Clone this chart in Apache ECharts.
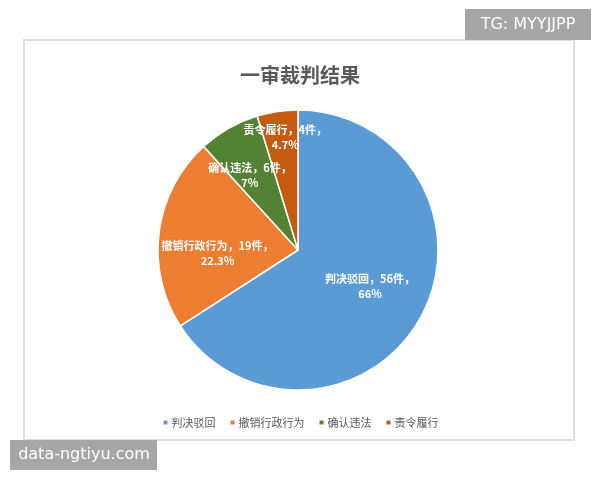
<!DOCTYPE html>
<html>
<head>
<meta charset="utf-8">
<script src="https://cdn.jsdelivr.net/npm/echarts@6/dist/echarts.min.js"></script>
<style>
  html, body { margin: 0; padding: 0; background: #fff; }
  #chart { width: 600px; height: 480px; }
</style>
</head>
<body>
<div id="chart"></div>
<script>
const categories = ['判决驳回', '撤销行政行为', '确认违法', '责令履行']
const counts = [56, 19, 6, 4]
const percentLabels = ['66%', '22.3%', '7%', '4.7%']
const colors = ['#5b9bd5', '#ed7d31', '#548235', '#c55a11']
// nudge labels so they sit where the original spreadsheet placed them
const labelOffsets = [[8, 1], [-8, 13], [-12, -11], [-2, -40]]

const chart = echarts.init(document.getElementById('chart'))
const font = '"Noto Sans CJK SC", serif'

chart.setOption({
  animation: false,
  title: {
    text: '一审裁判结果',
    left: 'center',
    top: 60,
    textStyle: { fontFamily: font, fontSize: 20, fontWeight: 'bold', color: '#595959' }
  },
  legend: {
    bottom: 47,
    left: 'center',
    itemWidth: 6,
    itemHeight: 6,
    itemGap: 13,
    icon: 'rect',
    textStyle: { fontFamily: font, fontSize: 11, color: '#595959', padding: [0, 0, 0, -2] },
    data: categories
  },
  graphic: [
    {
      type: 'rect', shape: { x: 24, y: 40, width: 550, height: 400 },
      style: { fill: 'none', stroke: '#dedede', lineWidth: 2 }, z: -1
    },
    {
      type: 'group', left: 465, top: 9, children: [
        { type: 'rect', shape: { width: 126, height: 31 }, style: { fill: '#a6a6a6' } },
        { type: 'text', x: 63, y: 16, style: { text: 'TG: MYYJJPP', fill: '#fff', font: '16px "DejaVu Sans", sans-serif', align: 'center', verticalAlign: 'middle' } }
      ]
    },
    {
      type: 'group', left: 10, top: 440, children: [
        { type: 'rect', shape: { width: 147, height: 30 }, style: { fill: '#a6a6a6' } },
        { type: 'text', x: 74, y: 15, style: { text: 'data-ngtiyu.com', fill: '#fff', font: '16px "DejaVu Sans", sans-serif', align: 'center', verticalAlign: 'middle' } }
      ]
    }
  ],
  series: [{
    type: 'pie',
    center: [298, 250],
    radius: 140,
    startAngle: 90,
    clockwise: true,
    itemStyle: { borderColor: '#fff', borderWidth: 1.5 },
    label: {
      show: true,
      position: 'inside',
      color: '#fff',
      fontFamily: font,
      fontSize: 11,
      fontWeight: 'bold',
      lineHeight: 15,
      align: 'center'
    },
    data: categories.map((name, i) => ({
      name,
      value: counts[i],
      itemStyle: { color: colors[i] },
      label: {
        formatter: name + '，' + counts[i] + '件，\n' + percentLabels[i],
        offset: labelOffsets[i]
      }
    }))
  }]
})
</script>
</body>
</html>
